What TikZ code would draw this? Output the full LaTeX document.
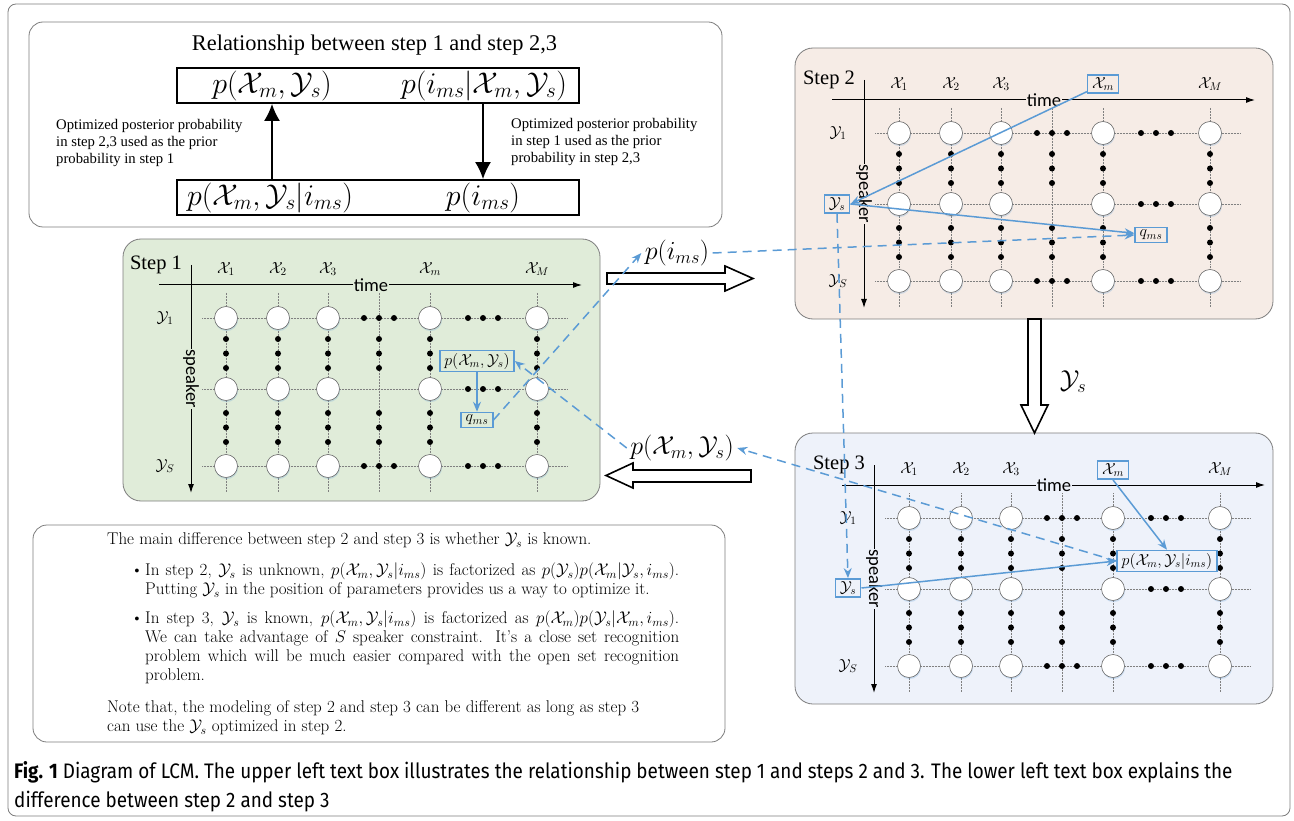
\documentclass[tikz,border=0pt]{standalone}
\usepackage{fix-cm}
\usepackage{fontspec}
\usepackage{amsmath,amssymb}
\usepackage{tikz}
\usetikzlibrary{arrows.meta,shadows}
\usepackage{xcolor}

\newfontfamily\timesfont{Liberation Serif}
\newfontfamily\calibrifont{Carlito}
\newfontfamily\captionfont[FakeStretch=0.9]{Fira Sans}

\definecolor{lineblue}{RGB}{91,155,213}
\definecolor{stepgreen}{RGB}{224,236,217}
\definecolor{steppeach}{RGB}{246,236,230}
\definecolor{stepblue}{RGB}{238,242,250}
\definecolor{framegray}{RGB}{125,125,125}

\tikzset{
  stepbox/.style={draw=framegray, rounded corners=18pt, line width=0.8pt},
  textbox/.style={draw=framegray, rounded corners=14pt, line width=0.8pt},
  slot/.style={circle, draw=gray!85!black, fill=white, minimum size=23pt, inner sep=0pt, line width=0.6pt,
    drop shadow={shadow xshift=0.6pt, shadow yshift=-1.6pt, fill=lineblue, opacity=0.25}},
  gridline/.style={gray, densely dotted, line width=0.5pt},
  timeaxis/.style={-{Latex[length=9pt,width=6pt]}, line width=1pt},
  axislabel/.style={font=\calibrifont\fontsize{18.5}{20}\selectfont, inner sep=1pt},
  steplabel/.style={font=\timesfont\fontsize{20.5}{22}\selectfont},
  gridlabel/.style={font=\fontsize{16}{18}\selectfont},
  bluebox/.style={draw=lineblue, line width=1.5pt, inner xsep=4.5pt, inner ysep=2.5pt, font=\fontsize{16}{18}\selectfont},
  bluearrow/.style={lineblue, line width=1.5pt, -{Stealth[length=10pt,width=8pt]}},
  bluedash/.style={lineblue, line width=1.5pt, dash pattern=on 9pt off 6pt, -{Stealth[length=10pt,width=8pt]}},
  formula/.style={font=\fontsize{30}{32}\selectfont},
  midlabel/.style={font=\fontsize{26}{28}\selectfont},
  sidenote/.style={font=\timesfont\fontsize{14.7}{17}\selectfont, align=left, inner sep=0pt},
  bodytext/.style={font=\fontsize{17}{19}\selectfont, inner sep=0pt},
  figcaption/.style={font=\captionfont\fontsize{21}{24}\selectfont, inner sep=0pt},
  bigarrow/.style={draw=black, fill=white, line width=1.6pt, line join=miter}
}

% one speaker/time lattice, origin at the first state
\newcommand{\speakergrid}[2]{%
  \foreach \cx in {0,52,102,153,204,311}
    \draw[gridline] (\cx,-25) -- (\cx,174);
  \foreach \ry in {0,71,148}
    \draw[gridline] (-24,\ry) -- (341,\ry);
  \draw[timeaxis] (-67,-33) -- (356,-33);
  \draw[timeaxis] (-35,-53) -- (-35,175);
  \node[axislabel, fill=#2] at (145,-33) {time};
  \node[axislabel, fill=#2, rotate=-90] at (-35,61) {speaker};
  \foreach \cx in {0,52,102,204,311}
    \foreach \ry in {0,71,148}
      \node[slot] at (\cx,\ry) {};
  \foreach \cx in {0,52,102,153,204,311}
    \foreach \ry in {21,35.5,50,95,109.5,124}
      \fill (\cx,\ry) circle (3);
  \foreach \cx in {138,153,168}
    \foreach \ry in {0,148}
      \fill (\cx,\ry) circle (3);
  \foreach \cx in {242,257,272}
    \foreach \ry in {0,71,148}
      \fill (\cx,\ry) circle (3);
  \node[steplabel] at (-70,-53) {Step #1};
  \node[gridlabel] at (0,-49) {$\mathcal{X}_1$};
  \node[gridlabel] at (52,-49) {$\mathcal{X}_2$};
  \node[gridlabel] at (102,-49) {$\mathcal{X}_3$};
  \node[gridlabel] at (311,-49) {$\mathcal{X}_M$};
  \node[gridlabel] at (-61,0) {$\mathcal{Y}_1$};
  \node[gridlabel] at (-61,148) {$\mathcal{Y}_S$};
}

\begin{document}
\begin{tikzpicture}[x=1pt,y=-1pt]
\useasboundingbox (0,0) rectangle (1294,821);

%% frames
\draw[framegray, rounded corners=8pt, line width=0.8pt] (8,4) rectangle (1290,816);
\draw[textbox] (29,22) rectangle (722,227);
\draw[textbox] (33,525) rectangle (725,742);
\draw[stepbox, fill=stepgreen] (123,239) rectangle (600,501);
\draw[stepbox, fill=steppeach] (795,48) rectangle (1273,319);
\draw[stepbox, fill=stepblue] (795,433) rectangle (1273,704);

%% relationship box
\node[font=\timesfont\fontsize{22.4}{25}\selectfont] (title) at (374.5,45) {Relationship between step 1 and step 2,3};
\node[draw, line width=1.8pt, minimum width=402pt, minimum height=35pt] (tbox) at (378,85.5) {};
\node[draw, line width=1.8pt, minimum width=402pt, minimum height=35pt] (bbox) at (378,197.5) {};
\node[formula] (pxytop) at (272,86) {$p(\mathcal{X}_m,\mathcal{Y}_s)$};
\node[formula] (imstop) at (484,86) {$p(i_{ms}|\mathcal{X}_m,\mathcal{Y}_s)$};
\node[formula] (pxyi) at (270,198) {$p(\mathcal{X}_m,\mathcal{Y}_s|i_{ms})$};
\node[formula] (pimsbot) at (483,198) {$p(i_{ms})$};
\draw[-{Latex[length=17pt,width=16pt]}, line width=1.8pt] (bbox.north -| pxytop) -- (tbox.south -| pxytop);
\draw[-{Latex[length=17pt,width=16pt]}, line width=1.8pt] (tbox.south -| pimsbot) -- (bbox.north -| pimsbot);
\node[sidenote, anchor=base west] (noteup) at (56,164) {Optimized posterior probability\\in step 2,3 used as the prior\\probability in step 1};
\node[sidenote, anchor=base west] (notedown) at (511,163) {Optimized posterior probability\\in step 1 used as the prior\\probability in step 2,3};

%% step 1
\begin{scope}[shift={(226,318)}]
\speakergrid{1}{stepgreen}
\node[gridlabel] (xm1) at (204,-49) {$\mathcal{X}_m$};
\node[bluebox] (pxy1) at (251,43) {$p(\mathcal{X}_m,\mathcal{Y}_s)$};
\node[bluebox] (qms1) at (251,102) {$q_{ms}$};
\draw[bluearrow] (pxy1) -- (qms1);
\end{scope}

%% step 2
\begin{scope}[shift={(899,133)}]
\speakergrid{2}{steppeach}
\node[bluebox] (xm2) at (204,-49) {$\mathcal{X}_m$};
\node[bluebox] (ys2) at (-62,71) {$\mathcal{Y}_s$};
\node[bluebox] (qms2) at (252,102) {$q_{ms}$};
\draw[bluearrow] (xm2) -- (ys2.east);
\draw[bluearrow] (ys2.east) -- (qms2);
\end{scope}

%% step 3
\begin{scope}[shift={(909,518)}]
\speakergrid{3}{stepblue}
\node[bluebox] (xm3) at (204,-48) {$\mathcal{X}_m$};
\node[bluebox] (ys3) at (-61,70) {$\mathcal{Y}_s$};
\node[bluebox] (pxyi3) at (258,43) {$p(\mathcal{X}_m,\mathcal{Y}_s|i_{ms})$};
\draw[bluearrow] (xm3.south) -- (pxyi3.north);
\draw[bluearrow] (ys3.east) -- (pxyi3.west);
\end{scope}

%% between the steps
\draw[bigarrow] (607,273) -- (725,273) -- (725,266) -- (753,278.5) -- (725,291) -- (725,284) -- (607,284) -- cycle;
\draw[bigarrow] (751,470) -- (633,470) -- (633,463) -- (606,475.5) -- (633,488) -- (633,482) -- (751,482) -- cycle;
\draw[bigarrow] (1028,319) -- (1028,405) -- (1021,405) -- (1034.5,433) -- (1048,405) -- (1041,405) -- (1041,319) -- cycle;
\node[midlabel] (pims) at (677,253) {$p(i_{ms})$};
\node[midlabel] (pxym) at (682,448) {$p(\mathcal{X}_m,\mathcal{Y}_s)$};
\node[midlabel] (ysm) at (1073,382) {$\mathcal{Y}_s$};

\draw[bluedash] (qms1.east) -- (pims.west);
\draw[bluedash] (pims.east) -- (qms2.west);
\draw[bluedash] (ys2.south) -- (ys3.north);
\draw[bluedash] (pxyi3.west) -- (pxym.east);
\draw[bluedash] (pxym.west) -- (pxy1.east);

%% difference box
\node[bodytext, anchor=base west] (diff) at (107,544.5) {The main difference between step 2 and step 3 is whether $\mathcal{Y}_s$ is known.};
\node[bodytext, anchor=base] (dot2) at (137,575.5) {\textbullet};
\node[bodytext, anchor=base west, text width=534pt, align=justify] (item2) at (145,575.5) {In step 2, $\mathcal{Y}_s$ is unknown, $p(\mathcal{X}_m,\mathcal{Y}_s|i_{ms})$ is factorized as $p(\mathcal{Y}_s)p(\mathcal{X}_m|\mathcal{Y}_s,i_{ms})$.\linebreak Putting $\mathcal{Y}_s$ in the position of parameters provides us a way to optimize it.};
\node[bodytext, anchor=base] (dot3) at (137,623.5) {\textbullet};
\node[bodytext, anchor=base west, text width=534pt, align=justify] (item3) at (145,623.5) {In step 3, $\mathcal{Y}_s$ is known, $p(\mathcal{X}_m,\mathcal{Y}_s|i_{ms})$ is factorized as $p(\mathcal{X}_m)p(\mathcal{Y}_s|\mathcal{X}_m,i_{ms})$.\linebreak We can take advantage of $S$ speaker constraint. It's a close set recognition\linebreak problem which will be much easier compared with the open set recognition\linebreak problem.};
\node[bodytext, anchor=base west, align=left] (note) at (107,731.5) {Note that, the modeling of step 2 and step 3 can be different as long as step 3\\can use the $\mathcal{Y}_s$ optimized in step 2.};

%% caption
\node[figcaption, anchor=base west] (cap1) at (14,778) {{\bfseries Fig. 1} Diagram of LCM. The upper left text box illustrates the relationship between step 1 and steps 2 and 3. The lower left text box explains the};
\node[figcaption, anchor=base west] (cap2) at (14,807) {difference between step 2 and step 3};
\end{tikzpicture}
\end{document}
